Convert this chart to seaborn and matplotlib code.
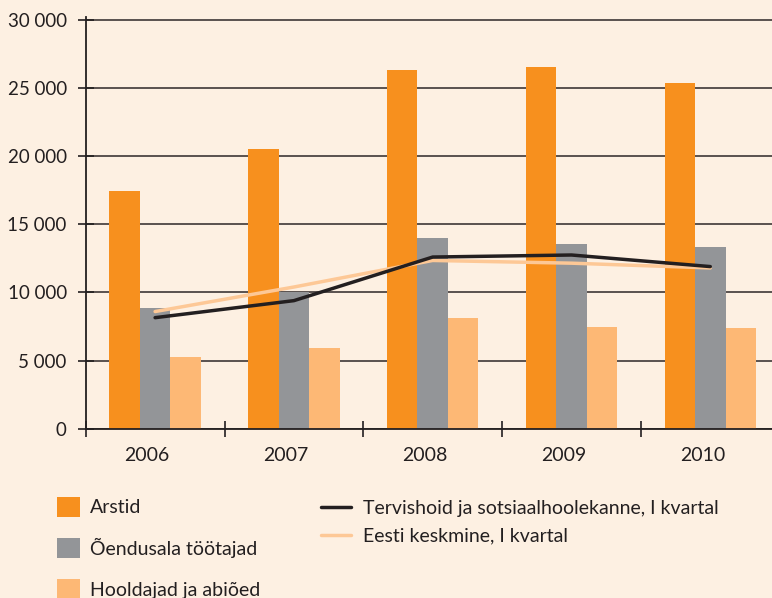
import numpy as np
import pandas as pd
import matplotlib
matplotlib.use("Agg")
import matplotlib.pyplot as plt
import matplotlib.transforms as mtransforms
from matplotlib.ticker import FixedLocator, FuncFormatter
from matplotlib.patches import Patch
from matplotlib.lines import Line2D
import seaborn as sns

# Data
years = ["2006", "2007", "2008", "2009", "2010"]
arstid = [17450, 20500, 26300, 26550, 25400]
oendus = [8850, 10000, 14000, 13550, 13350]
hooldajad = [5250, 5900, 8100, 7450, 7400]
tervishoid = [8150, 9400, 12600, 12750, 11900]
eesti = [8600, 10400, 12350, 12150, 11800]

bar_names = ["Arstid", "Õendusala töötajad", "Hooldajad ja abiõed"]
line_names = ["Tervishoid ja sotsiaalhoolekanne, I kvartal", "Eesti keskmine, I kvartal"]
yticks = [0, 5000, 10000, 15000, 20000, 25000, 30000]

bar_colors = ["#F7901E", "#939598", "#FDB875"]
line_colors = ["#231F20", "#FDC896"]
bg = "#FDF0E2"
ink = "#231F20"

fs = 14.0
fs_y = 13.5
sns.set_theme(style="white")
plt.rcParams["font.family"] = ["Lato", "DejaVu Sans"]
plt.rcParams["font.size"] = fs

df = pd.DataFrame({
    "Aasta": years * 3,
    "Väärtus": arstid + oendus + hooldajad,
    "Rühm": [n for n in bar_names for _ in years],
})

W, H = 772, 598
fig = plt.figure(figsize=(W / 100, H / 100), dpi=100, facecolor=bg)
y0_px, ytop_px = 428.7, 20.0
ymax = 30200
px_per_unit = (y0_px - ytop_px) / 30000
ax_h = ymax * px_per_unit
ax = fig.add_axes([85.7 / W, (H - y0_px) / H, 694 / W, ax_h / H])
ax.set_facecolor(bg)

sns.barplot(data=df, x="Aasta", y="Väärtus", hue="Rühm", hue_order=bar_names,
            palette=bar_colors, width=0.658, gap=0, saturation=1,
            linewidth=0, legend=False, ax=ax, zorder=2)

xpos = np.arange(len(years))
sns.lineplot(x=xpos, y=eesti, color=line_colors[1], lw=2.5, ax=ax, zorder=3)
sns.lineplot(x=xpos, y=tervishoid, color=line_colors[0], lw=2.5, ax=ax, zorder=4)

ax.set_xlim(-0.5, 4.5)
ax.set_ylim(0, ymax)
ax.set_xlabel("")
ax.set_ylabel("")

# Y axis
ax.yaxis.set_major_locator(FixedLocator(yticks))
ax.yaxis.set_major_formatter(FuncFormatter(lambda v, p: f"{int(v):,}".replace(",", " ")))
ax.yaxis.grid(True, color="#3d3636", lw=1.2)
ax.xaxis.grid(False)
ax.set_axisbelow(True)
ax.tick_params(axis="y", direction="inout", length=12, width=1.2, color=ink,
               pad=7.6, labelsize=fs_y, labelcolor=ink, left=True)

# X axis: labels at category centres, tick marks at category boundaries
ax.set_xticks(xpos)
ax.set_xticklabels(years)
ax.set_xticks(np.arange(-0.5, 5.0, 1.0), minor=True)
ax.tick_params(axis="x", which="major", length=0, pad=13.5, labelsize=fs, labelcolor=ink)
ax.tick_params(axis="x", which="minor", direction="inout", length=11.5, width=1.2,
               color=ink, bottom=True)
shift = mtransforms.ScaledTranslation(-8 / 100, 0, fig.dpi_scale_trans)
for lab in ax.get_xticklabels():
    lab.set_transform(lab.get_transform() + shift)

for s in ["top", "right"]:
    ax.spines[s].set_visible(False)
for s in ["left", "bottom"]:
    ax.spines[s].set_color(ink)
    ax.spines[s].set_linewidth(1.3)

# Legends
fs_px = fs * 100 / 72
bar_handles = [Patch(facecolor=c, edgecolor="none") for c in bar_colors]
leg1 = fig.legend(bar_handles, bar_names, loc="upper left",
                  bbox_to_anchor=(57 / W, 1 - 497 / H), frameon=False,
                  borderpad=0, borderaxespad=0, fontsize=fs,
                  handlelength=23 / fs_px, handleheight=23 / fs_px,
                  handletextpad=10 / fs_px, labelspacing=1.08, labelcolor=ink)
line_handles = [Line2D([], [], color=c, lw=2.5) for c in line_colors]
leg2 = fig.legend(line_handles, line_names, loc="upper left",
                  bbox_to_anchor=(321 / W, 1 - 500 / H), frameon=False,
                  borderpad=0, borderaxespad=0, fontsize=fs,
                  handlelength=30 / fs_px, handletextpad=12 / fs_px,
                  labelspacing=0.53, labelcolor=ink)

fig.savefig("out.png", dpi=100, facecolor=bg)
